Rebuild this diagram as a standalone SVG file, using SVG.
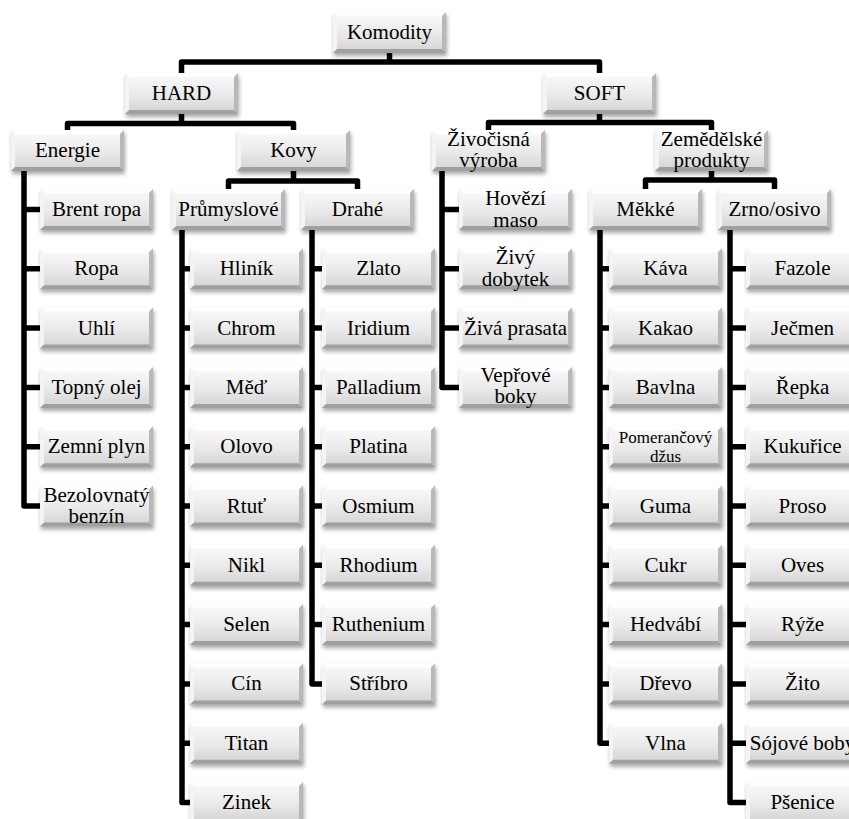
<svg xmlns="http://www.w3.org/2000/svg" xmlns:xlink="http://www.w3.org/1999/xlink" width="849" height="819" viewBox="0 0 849 819">
<defs>
<style>
text{font-family:"Liberation Serif","Times New Roman",serif;font-size:21px;text-anchor:middle;fill:#000}
.sm{font-size:17px}
.con{fill:none;stroke:#000;stroke-width:5.5;stroke-linejoin:round}
</style>
<linearGradient id="gf" x1="0" y1="0" x2="0" y2="1">
<stop offset="0" stop-color="#fbfbfb"/><stop offset="0.55" stop-color="#e9e9e9"/><stop offset="1" stop-color="#d2d2d2"/>
</linearGradient>
<filter id="sh" x="-20%" y="-30%" width="140%" height="170%"><feGaussianBlur stdDeviation="2.2"/></filter>
<g id="box">
<rect x="1" y="3" width="113" height="41" fill="#000" opacity="0.35" filter="url(#sh)"/>
<rect x="0" y="0" width="113" height="41" fill="url(#gf)"/>
<polygon points="0,0 113,0 109,4 4,4" fill="#ffffff" opacity="0.9"/>
<polygon points="0,0 4,4 4,37 0,41" fill="#f4f4f4"/>
<polygon points="0,41 4,37 109,37 113,41" fill="#a0a0a0"/>
<polygon points="113,0 113,41 109,37 109,4" fill="#b8b8b8"/>
</g>
</defs>
<rect width="849" height="819" fill="#fff"/>
<g id="connectors" class="con">
<path d="M389.5,53 V62 M181.5,73 V62 H599.5 V73"/>
<path d="M181.5,114 V123.5 M67.5,130 V123.5 H293.5 V130"/>
<path d="M599.5,114 V122.5 M488.5,130 V122.5 H711.5 V130"/>
<path d="M293.5,171 V181 M228.5,189 V181 H357.5 V189"/>
<path d="M711.5,171 V180 M645.5,189 V180 H774.5 V189"/>
<path d="M24,171 V506 H40 M24,209.5 H40 M24,268.8 H40 M24,328.1 H40 M24,387.4 H40 M24,446.7 H40"/>
<path d="M182,230 V802.5 H190 M182,268.8 H190 M182,328.1 H190 M182,387.4 H190 M182,446.7 H190 M182,506 H190 M182,565.3 H190 M182,624.6 H190 M182,683.9 H190 M182,743.2 H190"/>
<path d="M312,230 V683.9 H322 M312,268.8 H322 M312,328.1 H322 M312,387.4 H322 M312,446.7 H322 M312,506 H322 M312,565.3 H322 M312,624.6 H322"/>
<path d="M442,171 V387.4 H459 M442,209.5 H459 M442,268.8 H459 M442,328.1 H459"/>
<path d="M600,230 V743.2 H609 M600,268.8 H609 M600,328.1 H609 M600,387.4 H609 M600,446.7 H609 M600,506 H609 M600,565.3 H609 M600,624.6 H609 M600,683.9 H609"/>
<path d="M730,230 V802.5 H746 M730,268.8 H746 M730,328.1 H746 M730,387.4 H746 M730,446.7 H746 M730,506 H746 M730,565.3 H746 M730,624.6 H746 M730,683.9 H746 M730,743.2 H746"/>
</g>

<g id="n-komodity" transform="translate(333,12)"><use href="#box"/><text x="56.5" y="27">Komodity</text></g>
<g id="n-hard" transform="translate(125,73)"><use href="#box"/><text x="56.5" y="27">HARD</text></g>
<g id="n-soft" transform="translate(543,73)"><use href="#box"/><text x="56.5" y="27">SOFT</text></g>
<g id="n-energie" transform="translate(11,130)"><use href="#box"/><text x="56.5" y="27">Energie</text></g>
<g id="n-kovy" transform="translate(237,130)"><use href="#box"/><text x="56.5" y="27">Kovy</text></g>
<g id="n-zivocisna" transform="translate(432,130)"><use href="#box"/><text x="56.5" y="16">Živočisná</text><text x="56.5" y="37">výroba</text></g>
<g id="n-zemedelske" transform="translate(655,130)"><use href="#box"/><text x="56.5" y="16">Zemědělské</text><text x="56.5" y="37">produkty</text></g>

<g id="n-prumyslove" transform="translate(172,189)"><use href="#box"/><text x="56.5" y="27">Průmyslové</text></g>
<g id="n-drahe" transform="translate(301,189)"><use href="#box"/><text x="56.5" y="27">Drahé</text></g>
<g id="n-mekke" transform="translate(589,189)"><use href="#box"/><text x="56.5" y="27">Měkké</text></g>
<g id="n-zrno" transform="translate(718,189)"><use href="#box"/><text x="56.5" y="27">Zrno/osivo</text></g>

<g id="n-brent" transform="translate(40,189)"><use href="#box"/><text x="56.5" y="27">Brent ropa</text></g>
<g id="n-ropa" transform="translate(40,248.3)"><use href="#box"/><text x="56.5" y="27">Ropa</text></g>
<g id="n-uhli" transform="translate(40,307.6)"><use href="#box"/><text x="56.5" y="27">Uhlí</text></g>
<g id="n-topny" transform="translate(40,366.9)"><use href="#box"/><text x="56.5" y="27">Topný olej</text></g>
<g id="n-zemni" transform="translate(40,426.2)"><use href="#box"/><text x="56.5" y="27">Zemní plyn</text></g>
<g id="n-bezolovnaty" transform="translate(40,485.5)"><use href="#box"/><text x="56.5" y="16">Bezolovnatý</text><text x="56.5" y="37">benzín</text></g>

<g id="n-hlinik" transform="translate(190,248.3)"><use href="#box"/><text x="56.5" y="27">Hliník</text></g>
<g id="n-chrom" transform="translate(190,307.6)"><use href="#box"/><text x="56.5" y="27">Chrom</text></g>
<g id="n-med" transform="translate(190,366.9)"><use href="#box"/><text x="56.5" y="27">Měď</text></g>
<g id="n-olovo" transform="translate(190,426.2)"><use href="#box"/><text x="56.5" y="27">Olovo</text></g>
<g id="n-rtut" transform="translate(190,485.5)"><use href="#box"/><text x="56.5" y="27">Rtuť</text></g>
<g id="n-nikl" transform="translate(190,544.8)"><use href="#box"/><text x="56.5" y="27">Nikl</text></g>
<g id="n-selen" transform="translate(190,604.1)"><use href="#box"/><text x="56.5" y="27">Selen</text></g>
<g id="n-cin" transform="translate(190,663.4)"><use href="#box"/><text x="56.5" y="27">Cín</text></g>
<g id="n-titan" transform="translate(190,722.7)"><use href="#box"/><text x="56.5" y="27">Titan</text></g>
<g id="n-zinek" transform="translate(190,782)"><use href="#box"/><text x="56.5" y="27">Zinek</text></g>

<g id="n-zlato" transform="translate(322,248.3)"><use href="#box"/><text x="56.5" y="27">Zlato</text></g>
<g id="n-iridium" transform="translate(322,307.6)"><use href="#box"/><text x="56.5" y="27">Iridium</text></g>
<g id="n-palladium" transform="translate(322,366.9)"><use href="#box"/><text x="56.5" y="27">Palladium</text></g>
<g id="n-platina" transform="translate(322,426.2)"><use href="#box"/><text x="56.5" y="27">Platina</text></g>
<g id="n-osmium" transform="translate(322,485.5)"><use href="#box"/><text x="56.5" y="27">Osmium</text></g>
<g id="n-rhodium" transform="translate(322,544.8)"><use href="#box"/><text x="56.5" y="27">Rhodium</text></g>
<g id="n-ruthenium" transform="translate(322,604.1)"><use href="#box"/><text x="56.5" y="27">Ruthenium</text></g>
<g id="n-stribro" transform="translate(322,663.4)"><use href="#box"/><text x="56.5" y="27">Stříbro</text></g>

<g id="n-hovezi" transform="translate(459,189)"><use href="#box"/><text x="56.5" y="16">Hovězí</text><text x="56.5" y="38">maso</text></g>
<g id="n-zivy" transform="translate(459,248.3)"><use href="#box"/><text x="56.5" y="16">Živý</text><text x="56.5" y="38">dobytek</text></g>
<g id="n-prasata" transform="translate(459,307.6)"><use href="#box"/><text x="56.5" y="27">Živá prasata</text></g>
<g id="n-veprove" transform="translate(459,366.9)"><use href="#box"/><text x="56.5" y="15">Vepřové</text><text x="56.5" y="36">boky</text></g>

<g id="n-kava" transform="translate(609,248.3)"><use href="#box"/><text x="56.5" y="27">Káva</text></g>
<g id="n-kakao" transform="translate(609,307.6)"><use href="#box"/><text x="56.5" y="27">Kakao</text></g>
<g id="n-bavlna" transform="translate(609,366.9)"><use href="#box"/><text x="56.5" y="27">Bavlna</text></g>
<g id="n-dzus" transform="translate(609,426.2)"><use href="#box"/><text class="sm" x="56.5" y="17">Pomerančový</text><text class="sm" x="56.5" y="36">džus</text></g>
<g id="n-guma" transform="translate(609,485.5)"><use href="#box"/><text x="56.5" y="27">Guma</text></g>
<g id="n-cukr" transform="translate(609,544.8)"><use href="#box"/><text x="56.5" y="27">Cukr</text></g>
<g id="n-hedvabi" transform="translate(609,604.1)"><use href="#box"/><text x="56.5" y="27">Hedvábí</text></g>
<g id="n-drevo" transform="translate(609,663.4)"><use href="#box"/><text x="56.5" y="27">Dřevo</text></g>
<g id="n-vlna" transform="translate(609,722.7)"><use href="#box"/><text x="56.5" y="27">Vlna</text></g>

<g id="n-fazole" transform="translate(746,248.3)"><use href="#box"/><text x="56.5" y="27">Fazole</text></g>
<g id="n-jecmen" transform="translate(746,307.6)"><use href="#box"/><text x="56.5" y="27">Ječmen</text></g>
<g id="n-repka" transform="translate(746,366.9)"><use href="#box"/><text x="56.5" y="27">Řepka</text></g>
<g id="n-kukurice" transform="translate(746,426.2)"><use href="#box"/><text x="56.5" y="27">Kukuřice</text></g>
<g id="n-proso" transform="translate(746,485.5)"><use href="#box"/><text x="56.5" y="27">Proso</text></g>
<g id="n-oves" transform="translate(746,544.8)"><use href="#box"/><text x="56.5" y="27">Oves</text></g>
<g id="n-ryze" transform="translate(746,604.1)"><use href="#box"/><text x="56.5" y="27">Rýže</text></g>
<g id="n-zito" transform="translate(746,663.4)"><use href="#box"/><text x="56.5" y="27">Žito</text></g>
<g id="n-sojove" transform="translate(746,722.7)"><use href="#box"/><text x="56.5" y="27">Sójové boby</text></g>
<g id="n-psenice" transform="translate(746,782)"><use href="#box"/><text x="56.5" y="27">Pšenice</text></g>
</svg>
